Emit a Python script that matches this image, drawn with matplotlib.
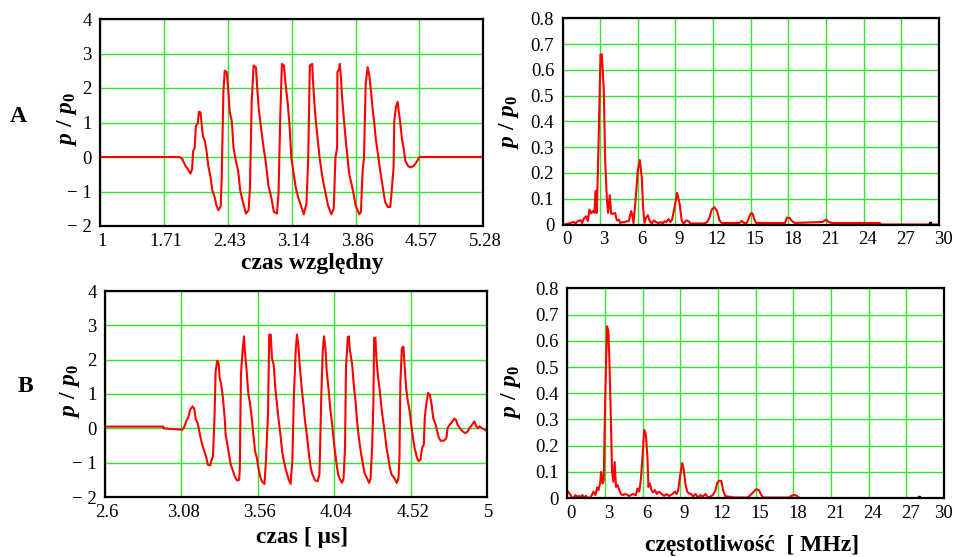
import matplotlib
matplotlib.use('Agg')
import matplotlib.pyplot as plt
from matplotlib.transforms import ScaledTranslation

plt.rcParams['font.family'] = 'Liberation Serif'
plt.rcParams['mathtext.fontset'] = 'custom'
plt.rcParams['mathtext.rm'] = 'Liberation Serif:bold'
plt.rcParams['mathtext.it'] = 'Liberation Serif:italic:bold'

# --- A: relative time signal ---
tA = [1.0, 1.89, 1.917, 1.935, 1.954, 1.981, 2.011, 2.029, 2.041, 2.059, 2.071, 2.093, 2.105, 2.123,
      2.135, 2.150, 2.172, 2.191, 2.210, 2.236, 2.255, 2.281, 2.300, 2.323, 2.349, 2.360, 2.379, 2.394,
      2.417, 2.432, 2.450, 2.473, 2.492, 2.518, 2.544, 2.567, 2.593, 2.631, 2.661, 2.676, 2.695, 2.717,
      2.743, 2.755, 2.774, 2.800, 2.826, 2.856, 2.882, 2.913, 2.943, 2.977, 2.995, 3.014, 3.033, 3.055,
      3.074, 3.100, 3.119, 3.138, 3.168, 3.187, 3.213, 3.251, 3.277, 3.307, 3.326, 3.345, 3.371, 3.380,
      3.395, 3.412, 3.435, 3.454, 3.481, 3.503, 3.529, 3.548, 3.567, 3.586, 3.612, 3.631, 3.650, 3.653,
      3.672, 3.680, 3.691, 3.706, 3.725, 3.744, 3.766, 3.785, 3.811, 3.837, 3.856, 3.879, 3.898, 3.916,
      3.935, 3.950, 3.969, 3.991, 4.010, 4.029, 4.048, 4.067, 4.085, 4.112, 4.131, 4.149, 4.168, 4.187,
      4.217, 4.243, 4.254, 4.281, 4.288, 4.307, 4.326, 4.337, 4.356, 4.375, 4.393, 4.412, 4.442, 4.469,
      4.506, 4.533, 4.555, 4.570, 5.28]
pA = [0, 0, -0.05, -0.15, -0.25, -0.35, -0.48, -0.35, 0.17, 0.27, 0.89, 0.98, 1.31, 1.29,
      0.98, 0.60, 0.46, 0.17, -0.26, -0.59, -0.97, -1.16, -1.40, -1.54, -1.43, -0.59, 1.89, 2.50,
      2.46, 1.98, 1.31, 1.03, 0.27, -0.11, -0.40, -0.97, -1.26, -1.64, -1.54, -0.88, 1.60, 2.65,
      2.60, 2.08, 1.40, 0.84, 0.31, -0.21, -0.83, -1.16, -1.59, -1.64, -1.07, 1.12, 2.70, 2.65,
      2.12, 1.50, 0.89, -0.02, -0.54, -0.88, -1.16, -1.45, -1.66, -1.35, -0.11, 2.65, 2.70, 2.22,
      1.60, 1.03, 0.46, -0.02, -0.50, -0.83, -1.16, -1.40, -1.54, -1.66, -1.50, -0.02, 0.27, 2.46,
      2.55, 2.70, 2.36, 1.70, 1.12, 0.55, -0.02, -0.50, -0.78, -1.12, -1.40, -1.54, -1.66, -1.59,
      -0.40, -0.02, 2.12, 2.60, 2.36, 1.89, 1.36, 0.93, 0.46, -0.02, -0.40, -0.69, -1.02, -1.31,
      -1.45, -1.45, -1.16, -0.30, 1.03, 1.45, 1.60, 1.36, 0.98, 0.50, 0.27, -0.11, -0.26, -0.30,
      -0.26, -0.16, -0.07, 0.0, 0.0]

# --- A: spectrum ---
fA = [0.10, 0.425, 0.690, 0.903, 1.035, 1.221, 1.434, 1.566, 1.699, 1.885, 2.018, 2.150, 2.283, 2.416,
      2.549, 2.628, 2.735, 2.867, 3.027, 3.133, 3.292, 3.398, 3.531, 3.637, 3.770, 3.876, 4.062, 4.195,
      4.327, 4.487, 4.593, 4.752, 4.938, 5.124, 5.283, 5.469, 5.549, 5.655, 5.814, 6.000, 6.159, 6.319,
      6.425, 6.531, 6.664, 6.796, 6.956, 7.115, 7.274, 7.460, 7.646, 7.858, 7.991, 8.124, 8.257, 8.442,
      8.602, 8.735, 8.920, 9.133, 9.319, 9.504, 9.664, 9.850, 10.035, 10.195, 11.310, 11.522, 11.708,
      11.894, 12.106, 12.319, 12.504, 12.690, 14.10, 14.28, 14.45, 14.68, 14.84, 15.00, 15.13, 15.27,
      15.42, 17.73, 17.87, 18.08, 18.27, 18.53, 20.73, 21.00, 21.19, 21.45, 25.30, 25.35, 30.0]
sA = [0.0, 0.003, 0.007, 0.010, 0.004, 0.013, 0.017, 0.006, 0.023, 0.032, 0.013, 0.058, 0.043, 0.052,
      0.045, 0.130, 0.045, 0.300, 0.660, 0.660, 0.520, 0.250, 0.100, 0.045, 0.114, 0.042, 0.042, 0.045,
      0.016, 0.019, 0.006, 0.009, 0.009, 0.013, 0.013, 0.052, 0.040, 0.006, 0.090, 0.210, 0.250, 0.180,
      0.065, 0.006, 0.026, 0.036, 0.013, 0.004, 0.016, 0.009, 0.006, 0.009, 0.004, 0.013, 0.009, 0.021,
      0.009, 0.019, 0.065, 0.123, 0.084, 0.013, 0.004, 0.016, 0.013, 0.004, 0.004, 0.009, 0.026,
      0.058, 0.067, 0.052, 0.016, 0.006, 0.006, 0.014, 0.006, 0.006, 0.023, 0.043, 0.043, 0.023,
      0.006, 0.006, 0.026, 0.026, 0.014, 0.006, 0.010, 0.019, 0.010, 0.006, 0.006, 0.0, 0.0]
dotA = (29.3, 0.006)

# --- B: measured time signal [us] ---
tB = [2.6, 2.966, 2.968, 3.086, 3.097, 3.114, 3.122, 3.135, 3.150, 3.161, 3.171, 3.182, 3.193, 3.203,
      3.214, 3.224, 3.235, 3.246, 3.261, 3.267, 3.278, 3.288, 3.295, 3.305, 3.314, 3.320, 3.331, 3.341,
      3.352, 3.358, 3.369, 3.379, 3.390, 3.401, 3.416, 3.430, 3.443, 3.447, 3.454, 3.464, 3.473, 3.479,
      3.490, 3.501, 3.511, 3.522, 3.532, 3.543, 3.554, 3.564, 3.575, 3.585, 3.602, 3.611, 3.624, 3.632,
      3.641, 3.649, 3.660, 3.670, 3.681, 3.692, 3.702, 3.713, 3.724, 3.734, 3.745, 3.755, 3.766, 3.777,
      3.787, 3.798, 3.806, 3.815, 3.823, 3.836, 3.847, 3.857, 3.868, 3.883, 3.893, 3.904, 3.921, 3.936,
      3.947, 3.953, 3.959, 3.968, 3.976, 3.985, 3.993, 4.004, 4.015, 4.025, 4.040, 4.051, 4.065, 4.078,
      4.089, 4.099, 4.108, 4.114, 4.125, 4.131, 4.140, 4.153, 4.163, 4.174, 4.184, 4.195, 4.210, 4.221,
      4.231, 4.246, 4.259, 4.269, 4.278, 4.286, 4.291, 4.299, 4.305, 4.316, 4.327, 4.337, 4.348, 4.359,
      4.369, 4.380, 4.390, 4.401, 4.418, 4.433, 4.444, 4.450, 4.456, 4.465, 4.475, 4.482, 4.492, 4.503,
      4.514, 4.524, 4.535, 4.545, 4.560, 4.571, 4.582, 4.592, 4.603, 4.609, 4.618, 4.630, 4.641, 4.652,
      4.662, 4.677, 4.688, 4.698, 4.709, 4.730, 4.745, 4.752, 4.766, 4.783, 4.794, 4.805, 4.815, 4.830,
      4.847, 4.864, 4.879, 4.890, 4.907, 4.921, 4.932, 4.943, 4.953, 4.970, 4.985, 5.0]
pB = [0.05, 0.05, 0.0, -0.04, 0.03, 0.25, 0.30, 0.54, 0.64, 0.57, 0.25, 0.16, -0.09, -0.33,
      -0.52, -0.67, -0.82, -1.06, -1.08, -0.96, -0.82, 0.30, 1.66, 1.97, 1.90, 1.47, 1.27, 0.88,
      0.30, -0.18, -0.48, -0.77, -1.06, -1.20, -1.40, -1.52, -1.50, -1.16, 1.56, 2.24, 2.68, 2.24,
      1.66, 0.98, 0.74, 0.30, -0.18, -0.67, -0.86, -1.16, -1.40, -1.54, -1.62, -0.96, 0.40, 2.73,
      2.73, 2.05, 1.85, 1.17, 0.69, 0.20, -0.18, -0.67, -0.96, -1.16, -1.35, -1.50, -1.62, -0.96,
      0.98, 2.24, 2.73, 2.43, 1.85, 1.17, 0.69, 0.20, -0.18, -0.82, -1.16, -1.35, -1.52, -1.54,
      -1.35, -0.28, 0.98, 2.24, 2.68, 2.33, 1.66, 1.17, 0.59, 0.20, -0.48, -0.90, -1.35, -1.50,
      -1.59, -1.45, -0.57, 1.76, 2.64, 2.68, 2.24, 1.85, 1.27, 0.78, 0.20, -0.28, -0.77, -1.06,
      -1.31, -1.45, -1.59, -1.45, -0.57, 0.69, 2.64, 2.64, 2.05, 1.47, 1.07, 0.59, 0.20, -0.18,
      -0.57, -0.86, -1.16, -1.35, -1.45, -1.59, -1.45, -0.86, 1.37, 2.33, 2.38, 1.85, 1.17, 0.78,
      0.50, 0.11, -0.28, -0.57, -0.86, -0.96, -0.91, -0.57, -0.48, 0.30, 0.69, 1.03, 0.98, 0.69,
      0.30, 0.11, -0.09, -0.28, -0.36, -0.36, -0.28, 0.0, 0.11, 0.20, 0.28, 0.25, 0.11, 0.0,
      -0.09, -0.14, -0.09, 0.0, 0.11, 0.20, 0.06, 0.0, 0.06, 0.0, -0.04, -0.07]

# --- B: spectrum [MHz] ---
fB = [0.05, 0.256, 0.362, 0.493, 0.652, 0.784, 0.916, 1.048, 1.179, 1.364, 1.496, 1.628, 1.813, 1.945,
      2.077, 2.235, 2.367, 2.472, 2.604, 2.683, 2.815, 2.894, 3.026, 3.158, 3.264, 3.343, 3.475, 3.554,
      3.660, 3.765, 3.871, 4.003, 4.135, 4.266, 4.398, 4.662, 4.926, 5.190, 5.454, 5.586, 5.718, 5.850,
      5.982, 6.113, 6.245, 6.377, 6.456, 6.562, 6.694, 6.826, 6.984, 7.116, 7.301, 7.512, 7.697, 7.908,
      8.092, 8.356, 8.567, 8.699, 8.831, 8.963, 9.148, 9.280, 9.412, 9.543, 9.675, 9.860, 10.018, 10.203,
      10.414, 10.599, 10.784, 10.995, 11.206, 11.390, 11.575, 11.786, 11.918, 12.050, 12.261, 12.393,
      12.578, 12.842, 13.238, 14.38, 14.51, 14.77, 15.04, 15.25, 15.44, 15.62, 17.69, 17.83, 18.09,
      18.28, 18.43, 18.60, 30.0]
sB = [0.025, 0.012, 0.0, 0.003, 0.012, 0.003, 0.009, 0.003, 0.012, 0.003, 0.009, 0.0, 0.003, 0.012,
      0.025, 0.012, 0.041, 0.031, 0.056, 0.100, 0.056, 0.069, 0.410, 0.655, 0.635, 0.530, 0.280, 0.106,
      0.062, 0.138, 0.043, 0.050, 0.031, 0.016, 0.012, 0.016, 0.008, 0.016, 0.012, 0.037, 0.025, 0.069,
      0.157, 0.260, 0.245, 0.157, 0.043, 0.056, 0.031, 0.022, 0.031, 0.016, 0.025, 0.016, 0.009, 0.016,
      0.008, 0.016, 0.025, 0.016, 0.031, 0.081, 0.134, 0.106, 0.050, 0.025, 0.018, 0.016, 0.006, 0.016,
      0.003, 0.012, 0.006, 0.016, 0.003, 0.006, 0.012, 0.028, 0.056, 0.066, 0.066, 0.031,
      0.008, 0.006, 0.003, 0.0025, 0.009, 0.021, 0.034, 0.031, 0.0125, 0.0025, 0.0025, 0.009, 0.0125,
      0.009, 0.0025, 0.0, 0.0]
dotB = (28.0, 0.004)

tA_ticks = [1, 1.71, 2.43, 3.14, 3.86, 4.57, 5.28]
tA_labels = ['1', '1.71', '2.43', '3.14', '3.86', '4.57', '5.28']
tB_ticks = [2.6, 3.08, 3.56, 4.04, 4.52, 5]
tB_labels = ['2.6', '3.08', '3.56', '4.04', '4.52', '5']
p_ticks = [-2, -1, 0, 1, 2, 3, 4]
p_labels = ['\u2212 2', '\u2212 1', '0', '1', '2', '3', '4']
f_ticks = list(range(0, 31, 3))
s_ticks = [0, 0.1, 0.2, 0.3, 0.4, 0.5, 0.6, 0.7, 0.8]
s_labels = ['0', '0.1', '0.2', '0.3', '0.4', '0.5', '0.6', '0.7', '0.8']

W, H = 955, 557
fig = plt.figure(figsize=(W / 100, H / 100), dpi=100)


def add_ax(x0, y0, x1, y1):
    # pixel box (top-left origin) -> figure fraction
    return fig.add_axes([x0 / W, 1 - y1 / H, (x1 - x0) / W, (y1 - y0) / H])


def style(ax, xlim, ylim, xt, xl, yt, yl, dx, last_dx=None):
    ax.set_xlim(xlim)
    ax.set_ylim(ylim)
    ax.set_xticks(xt)
    ax.set_xticklabels(xl)
    ax.set_yticks(yt)
    ax.set_yticklabels(yl)
    ax.grid(True, color='#2ee62e', lw=1.0)
    ax.set_axisbelow(True)
    ax.tick_params(length=0, labelsize=13.5)
    ax.tick_params(axis='x', pad=5)
    ax.tick_params(axis='y', pad=6)
    for s in ax.spines.values():
        s.set_color('black')
        s.set_linewidth(1.6)
    labs = ax.get_xticklabels()
    for i, lab in enumerate(labs):
        d = dx
        if last_dx is not None and i == len(labs) - 1:
            d = last_dx
        lab.set_transform(lab.get_transform() + ScaledTranslation(d / 100, 0, fig.dpi_scale_trans))


red = '#ff0000'

ax1 = add_ax(100, 19, 483, 226)
ax1.plot(tA, pA, color=red, lw=1.5)
style(ax1, (1, 5.28), (-2, 4), tA_ticks, tA_labels, p_ticks, p_labels, 2)

ax2 = add_ax(562.5, 18.3, 939, 224.5)
ax2.plot(fA, sA, color=red, lw=1.5)
ax2.plot(*dotA, 's', color='black', ms=2)
style(ax2, (0, 30), (0, 0.8), f_ticks, [str(v) for v in f_ticks], s_ticks, s_labels, 4)

ax3 = add_ax(105, 291, 487, 497)
ax3.plot(tB, pB, color=red, lw=1.5)
style(ax3, (2.6, 5), (-2, 4), tB_ticks, tB_labels, p_ticks, p_labels, 2)

ax4 = add_ax(567.4, 288.3, 944, 498.2)
ax4.plot(fB, sB, color=red, lw=1.5)
ax4.plot(*dotB, 's', color='black', ms=2)
style(ax4, (0, 30), (0, 0.8), f_ticks, [str(v) for v in f_ticks], s_ticks, s_labels, 4, last_dx=-1)

ylab = r'$p\ /\ p_0$'
for x, y in [(67, 119), (509, 122), (70, 391), (511, 392)]:
    fig.text(x / W, 1 - y / H, ylab, rotation=90, ha='center', va='center', fontsize=17)

fig.text(18 / W, 1 - 117 / H, 'A', ha='center', va='center', fontsize=17, fontweight='bold')
fig.text(25 / W, 1 - 387 / H, 'B', ha='center', va='center', fontsize=17, fontweight='bold')

fig.text(312 / W, 1 - 263 / H, 'czas względny', ha='center', va='center', fontsize=17, fontweight='bold')
fig.text(302 / W, 1 - 538 / H, 'czas [ \u03bcs]', ha='center', va='center', fontsize=17, fontweight='bold')
fig.text(752 / W, 1 - 545 / H, 'częstotliwość  [ MHz]', ha='center', va='center', fontsize=17,
         fontweight='bold')

fig.savefig('out.png', dpi=100)
